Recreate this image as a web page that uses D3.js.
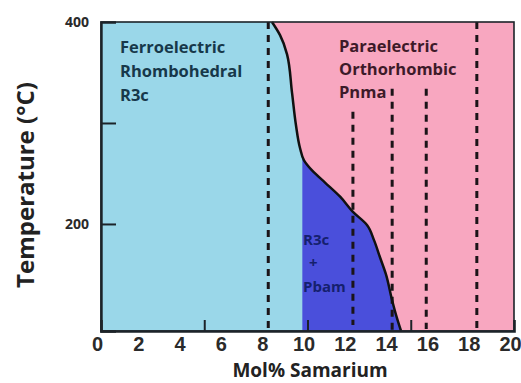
<!DOCTYPE html>
<html>
<head>
<meta charset="utf-8">
<script src="https://cdn.jsdelivr.net/npm/d3@7"></script>
<style>
  body { margin: 0; background: #fff; }
  svg { display: block; }
  .region { font-family: "Open Sans", Lato, sans-serif; font-weight: bold; font-size: 16.5px; }
</style>
</head>
<body>
<div id="chart"></div>
<script>
// phase diagram data
const xTickValues = [0, 2, 4, 6, 8, 10, 12, 14, 16, 18, 20];
const yTickLabels = [200, 400];
const yInnerTicks = [200, 300];
const xInnerTicks = [5, 10, 15];

// boundary ferro / para (mol% Sm, temperature)
const boundarySm = [8.28, 8.67, 9.01, 9.25, 9.44, 9.64, 9.83, 10.22, 10.85, 11.58, 12.2, 12.88, 13.22, 13.51, 13.8, 14.09, 14.33, 14.53];
const boundaryT = [400, 387, 368, 330, 298, 275, 263, 253, 241, 227, 212, 199, 184, 167, 150, 125, 107, 94];

// left edge of the R3c + Pbam region
const mixedEdgeSm = 9.75;

// dashed composition lines
const dashSm = [8.1, 12.2, 14.1, 15.75, 18.2];
const dashTop = [400, 311, 334, 334, 400];
const dashBottom = [94, 100, 94, 96, 94];

let width = 521;
let height = 383;
let margin = { top: 22, right: 7, bottom: 52, left: 101 };

let x = d3.scaleLinear().domain([0, 20]).range([margin.left, width - margin.right]);
let y = d3.scaleLinear().domain([94, 400]).range([height - margin.bottom, margin.top]);

let svg = d3.select("#chart")
  .append("svg")
  .attr("width", width)
  .attr("height", height);

let boundary = boundarySm.map((d, i) => [d, boundaryT[i]]);

let line = d3.line()
  .x(d => x(d[0]))
  .y(d => y(d[1]))
  .curve(d3.curveMonotoneY);

// pink background (paraelectric)
svg.append("rect")
  .attr("x", x(0))
  .attr("y", y(400))
  .attr("width", x(20) - x(0))
  .attr("height", y(94) - y(400))
  .attr("fill", "#f8a7c0");

// left of the boundary (ferroelectric)
let leftPath = "M" + x(0) + "," + y(400) + "L" + line(boundary).slice(1) + "L" + x(0) + "," + y(94) + "Z";

svg.append("defs")
  .append("clipPath")
  .attr("id", "left-clip")
  .append("path")
  .attr("d", leftPath);

svg.append("path")
  .attr("d", leftPath)
  .attr("fill", "#9ad7e9");

// R3c + Pbam region
svg.append("rect")
  .attr("x", x(mixedEdgeSm))
  .attr("y", y(400))
  .attr("width", x(20) - x(mixedEdgeSm))
  .attr("height", y(94) - y(400))
  .attr("fill", "#4a4fdb")
  .attr("clip-path", "url(#left-clip)");

// dashed lines
svg.selectAll(".dash")
  .data(dashSm)
  .enter()
  .append("line")
  .attr("x1", d => x(d))
  .attr("x2", d => x(d))
  .attr("y1", (d, i) => y(dashTop[i]))
  .attr("y2", (d, i) => y(dashBottom[i]))
  .attr("stroke", "#1b1418")
  .attr("stroke-width", 3)
  .attr("stroke-dasharray", "7,6");

// boundary line
svg.append("path")
  .attr("d", line(boundary))
  .attr("fill", "none")
  .attr("stroke", "#111")
  .attr("stroke-width", 2.5);

// frame
svg.append("rect")
  .attr("x", x(0))
  .attr("y", y(400))
  .attr("width", x(20) - x(0))
  .attr("height", y(94) - y(400))
  .attr("fill", "none")
  .attr("stroke", "#1c2329")
  .attr("stroke-width", 1.6);

// inward ticks
svg.append("g")
  .attr("transform", `translate(${x(0)},0)`)
  .call(d3.axisRight(y).tickValues(yInnerTicks).tickSize(15).tickFormat(""))
  .call(g => g.select(".domain").attr("stroke", "#1c2329").attr("stroke-width", 2.4))
  .call(g => g.selectAll(".tick line").attr("stroke", "#1c2329").attr("stroke-width", 2));

svg.append("g")
  .attr("transform", `translate(0,${y(94)})`)
  .call(d3.axisTop(x).tickValues(xInnerTicks).tickSize(11).tickFormat(""))
  .call(g => g.select(".domain").attr("stroke", "#1c2329").attr("stroke-width", 2.6))
  .call(g => g.selectAll(".tick line").attr("stroke", "#1c2329").attr("stroke-width", 2));

// tick labels
svg.append("g")
  .attr("transform", `translate(0,${y(94)})`)
  .call(d3.axisBottom(x).tickValues(xTickValues).tickSize(0).tickPadding(6))
  .call(g => g.select(".domain").remove())
  .call(g => g.selectAll("text")
    .attr("dx", -4)
    .style("font-size", "20px")
    .style("font-family", "'Liberation Sans', Arial, sans-serif")
    .style("font-weight", "bold")
    .attr("fill", "#2a2a2a"));

svg.append("g")
  .attr("transform", `translate(${x(0)},0)`)
  .call(d3.axisLeft(y).tickValues(yTickLabels).tickSize(0).tickPadding(12))
  .call(g => g.select(".domain").remove())
  .call(g => g.selectAll("text")
    .style("font-size", "14px")
    .style("font-family", "'Open Sans', Lato, sans-serif")
    .style("font-weight", "bold")
    .attr("fill", "#2a2a2a"));

// axis titles
svg.append("text")
  .attr("x", 310)
  .attr("y", 377)
  .attr("text-anchor", "middle")
  .style("font-family", "'Open Sans', Lato, sans-serif")
  .style("font-weight", "bold")
  .style("font-size", "19px")
  .attr("fill", "#222")
  .text("Mol% Samarium");

svg.append("text")
  .attr("transform", "translate(34,185) rotate(-90)")
  .attr("text-anchor", "middle")
  .style("font-family", "'Open Sans', Lato, sans-serif")
  .style("font-weight", "bold")
  .style("font-size", "24px")
  .attr("fill", "#222")
  .text("Temperature (°C)");

// region labels
let ferro = svg.append("text").attr("class", "region").attr("fill", "#17384a");
["Ferroelectric", "Rhombohedral", "R3c"].forEach((t, i) => {
  ferro.append("tspan").attr("x", 120).attr("y", 53 + i * 24).text(t);
});

let para = svg.append("text").attr("class", "region").attr("fill", "#3d1a29");
["Paraelectric", "Orthorhombic", "Pnma"].forEach((t, i) => {
  para.append("tspan").attr("x", 339).attr("y", 52 + i * 23).text(t);
});

let mixed = svg.append("text").attr("class", "region").attr("fill", "#15206e").style("font-size", "15px");
mixed.append("tspan").attr("x", 303).attr("y", 245).text("R3c");
mixed.append("tspan").attr("x", 309).attr("y", 268).text("+");
mixed.append("tspan").attr("x", 303).attr("y", 292).text("Pbam");
</script>
</body>
</html>
